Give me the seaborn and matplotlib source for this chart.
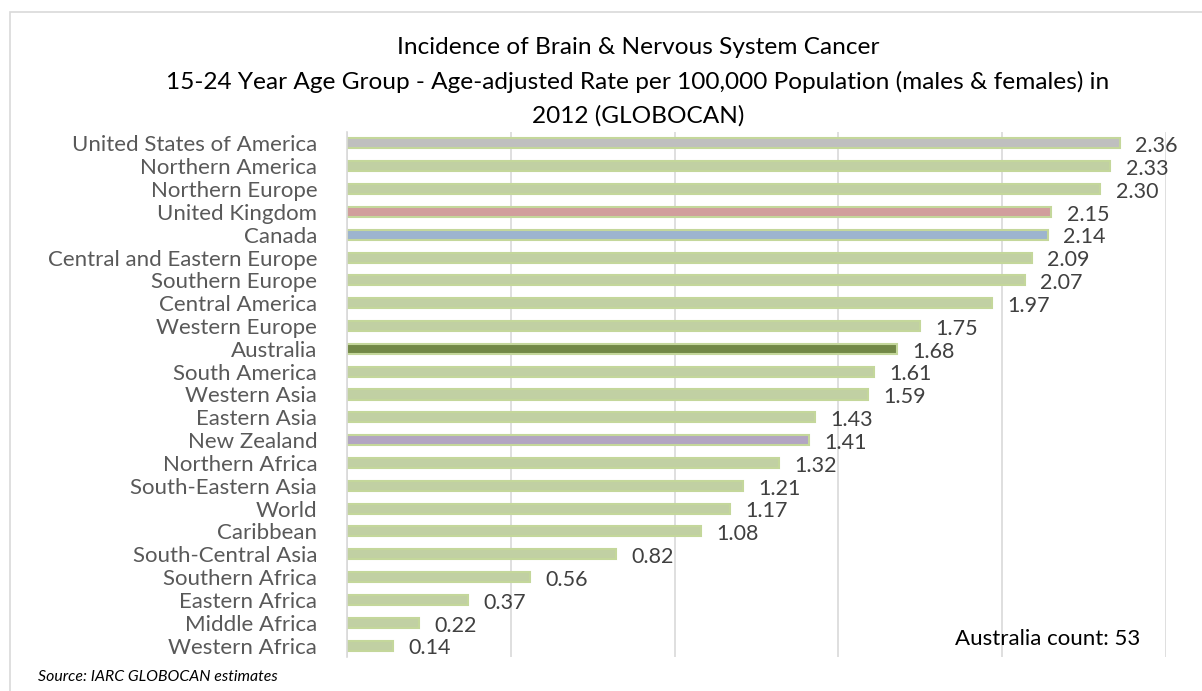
import matplotlib
matplotlib.use("Agg")
import matplotlib.pyplot as plt
from matplotlib.patches import Rectangle
import seaborn as sns
import pandas as pd

regions = [
    "United States of America", "Northern America", "Northern Europe",
    "United Kingdom", "Canada", "Central and Eastern Europe", "Southern Europe",
    "Central America", "Western Europe", "Australia", "South America",
    "Western Asia", "Eastern Asia", "New Zealand", "Northern Africa",
    "South-Eastern Asia", "World", "Caribbean", "South-Central Asia",
    "Southern Africa", "Eastern Africa", "Middle Africa", "Western Africa",
]
rates = [
    2.36, 2.33, 2.30, 2.15, 2.14, 2.09, 2.07, 1.97, 1.75, 1.68, 1.61, 1.59,
    1.43, 1.41, 1.32, 1.21, 1.17, 1.08, 0.82, 0.56, 0.37, 0.22, 0.14,
]
highlight_colors = {
    "United States of America": "#BFBFBF",
    "United Kingdom": "#DA9694",
    "Canada": "#95B3D7",
    "Australia": "#76933C",
    "New Zealand": "#B1A0C7",
}
base_green = "#C4D79B"

title_lines = [
    "Incidence of Brain & Nervous System Cancer",
    "15-24 Year Age Group - Age-adjusted Rate per 100,000 Population (males & females) in",
    "2012 (GLOBOCAN)",
]
source_note = "Source: IARC GLOBOCAN estimates"
count_note = "Australia count: 53"

df = pd.DataFrame({"region": regions, "rate": rates})
palette = {r: highlight_colors.get(r, base_green) for r in regions}

sns.set_style("white")
plt.rcParams["font.family"] = ["Lato", "DejaVu Sans"]

fig = plt.figure(figsize=(12.02, 6.91), dpi=100)
ax = fig.add_axes([347 / 1202, 1 - 657 / 691, (1166 - 347) / 1202, (657 - 132) / 691])

sns.barplot(
    data=df, y="region", x="rate", hue="region", palette=palette,
    orient="h", width=0.44, edgecolor=base_green, linewidth=1.5,
    legend=False, ax=ax,
)

ax.set_xlim(0, 2.5)
ax.set_xticks([0, 0.5, 1.0, 1.5, 2.0, 2.5])
ax.set_xticklabels([])
ax.tick_params(axis="x", length=0)
ax.tick_params(axis="y", length=0, pad=21.5, labelsize=16, labelcolor="#595959")
ax.set_xlabel("")
ax.set_ylabel("")
ax.grid(axis="x", color="#D9D9D9", linewidth=1.2)
ax.set_axisbelow(True)
for side in ["top", "right", "bottom"]:
    ax.spines[side].set_visible(False)
ax.spines["left"].set_color("#D9D9D9")
ax.spines["left"].set_linewidth(1.2)

for i, v in enumerate(rates):
    ax.annotate(f"{v:.2f}", xy=(v, i), xytext=(11, -2), textcoords="offset points",
                ha="left", va="center", fontsize=15.5, color="#404040")

for k, line in enumerate(title_lines):
    fig.text(638 / 1202, 1 - (47 + 34.5 * k) / 691, line, ha="center", va="center",
             fontsize=17.6, color="#000000")

fig.text(38 / 1202, 1 - 677 / 691, source_note, ha="left", va="center",
         fontsize=11.4, style="italic", color="#000000")
ax.text(0.742, 0.035, count_note, transform=ax.transAxes, ha="left", va="center",
        fontsize=16, color="#000000")

fig.patches.append(Rectangle((10 / 1202, -0.05), 1.1, 1 - 12 / 691 + 0.05,
                             transform=fig.transFigure, fill=False,
                             edgecolor="#D9D9D9", linewidth=1.2))

fig.savefig("out.png", dpi=100, facecolor="white")
